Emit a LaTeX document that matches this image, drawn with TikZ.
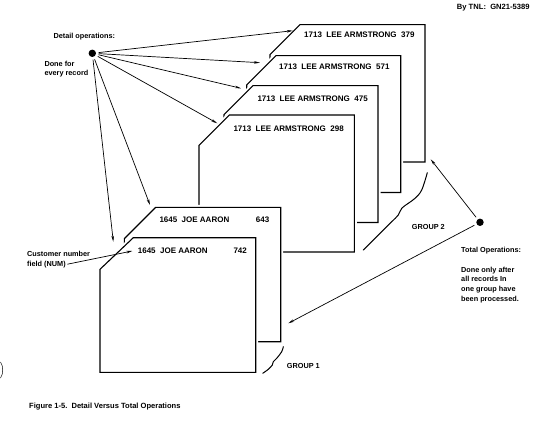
\documentclass[tikz,border=0pt]{standalone}
\usepackage{fontspec}
\setmainfont{Liberation Sans}
\usetikzlibrary{arrows.meta}
\begin{document}
\begin{tikzpicture}[x=1pt,y=-1pt,
  card/.style={draw=black, fill=white, line width=1.1pt, line join=miter,
               preaction={draw=white, line width=5pt}},
  rec/.style={font=\bfseries\fontsize{8}{9.6}\selectfont, anchor=west, inner sep=0pt},
  lbl/.style={font=\bfseries\fontsize{7.3}{9.8}\selectfont, anchor=west, inner sep=0pt, align=left},
  arr/.style={line width=0.7pt, -{Stealth[length=6pt,width=2.6pt]}},
  dotnode/.style={circle, fill=black, inner sep=0pt, minimum size=7.4pt},
  brace/.style={line width=1pt, line cap=round}]
\useasboundingbox (0,0) rectangle (534,422);

% cards, back to front
\path[card] (300,24.7) -- (425,24.7) -- (425,162) -- (270,162) -- (270,54.7) -- cycle;
\path[card] (276,55.7) -- (400.7,55.7) -- (400.7,192.5) -- (246.7,192.5) -- (246.7,85) -- cycle;
\path[card] (253,85.7) -- (378,85.7) -- (378,222.5) -- (224,222.5) -- (224,114.7) -- cycle;
\path[card] (229.3,115) -- (354.3,115) -- (354.3,252) -- (199,252) -- (199,145.3) -- cycle;
\path[card] (155.7,207.3) -- (280.7,207.3) -- (280.7,341.7) -- (124.3,341.7) -- (124.3,238.7) -- cycle;
\path[card] (133.3,237.7) -- (255.7,237.7) -- (255.7,372.3) -- (100,372.3) -- (100,269.3) -- cycle;

% record texts
\node[rec] (r1) at (304,35) {1713\ \ LEE ARMSTRONG\ \ 379};
\node[rec] (r2) at (279,66.7) {1713\ \ LEE ARMSTRONG\ \ 571};
\node[rec] (r3) at (257.3,99) {1713\ \ LEE ARMSTRONG\ \ 475};
\node[rec] (r4) at (233.3,128.3) {1713\ \ LEE ARMSTRONG\ \ 298};
\node[rec] (r5a) at (159.3,220) {1645\ \ JOE AARON};
\node[rec] (r5b) at (255.7,220) {643};
\node[rec] (r6a) at (137.7,250.7) {1645\ \ JOE AARON};
\node[rec] (r6b) at (233.3,250.7) {742};

% labels
\node[lbl] (detail) at (53.3,36.7) {Detail operations:};
\node[lbl] (done) at (44.3,69.2) {Done for\\every record};
\node[lbl] (cust1) at (27,254) {Customer number};
\node[lbl] (cust2) at (27,264.5) {field (NUM)};
\node[lbl] (total) at (461,250.7) {Total Operations:};
\node[lbl] (after) at (461,285) {Done only after\\all records In\\one group have\\been processed.};
\node[lbl] (g2) at (411.7,227.3) {GROUP 2};
\node[lbl] (g1) at (286.7,365.7) {GROUP 1};
\node[font=\bfseries\fontsize{7.55}{9}\selectfont, anchor=west, inner sep=0pt] (cap) at (29,406.7) {Figure 1-5.\ \ Detail Versus Total Operations};
\node[font=\bfseries\fontsize{7.6}{9}\selectfont, anchor=west, inner sep=0pt] (tnl) at (456.7,7.7) {By TNL:\ \ GN21-5389};

% dots
\node[dotnode] (ldot) at (92.3,53.3) {};
\node[dotnode] (rdot) at (480,222.3) {};

% arrow targets
\coordinate (t1) at (292.7,30.7);
\coordinate (t2) at (260,62.7);
\coordinate (t3) at (241,88.3);
\coordinate (t4) at (217.3,123.3);
\coordinate (t5) at (150,205);
\coordinate (t6) at (113.3,241.7);
\coordinate (tc) at (132.3,251);
\coordinate (tg2) at (430.7,159.3);
\coordinate (tg1) at (288.3,323.3);

\foreach \t in {t1,t2,t3,t4,t5,t6}
  \draw[arr, shorten <=2.5pt] (ldot) -- (\t);
\draw[arr, shorten <=1.5pt] (cust2.east) -- (tc);
\draw[arr, shorten <=2.5pt] (rdot) -- (tg2);
\draw[arr, shorten <=2.5pt] (rdot) -- (tg1);

% group braces
\draw[brace] plot[smooth, tension=0.6] coordinates {(427.3,172.7) (421.7,190) (415,198.3) (408.3,203.3) (401.7,208.3) (398.3,215) (391.7,221.7) (383.3,230) (373.3,240) (363.3,250)};
\draw[brace] plot[smooth, tension=0.6] coordinates {(283.3,346.7) (281.7,351.7) (276.7,358.3) (273.3,361.7) (272.3,365) (268.3,369.3) (262.7,373.3)};

% hole-punch edge mark
\draw[line width=0.5pt] (0.5,362) .. controls (3.5,366) and (3.5,374) .. (0.5,378);
\end{tikzpicture}
\end{document}
